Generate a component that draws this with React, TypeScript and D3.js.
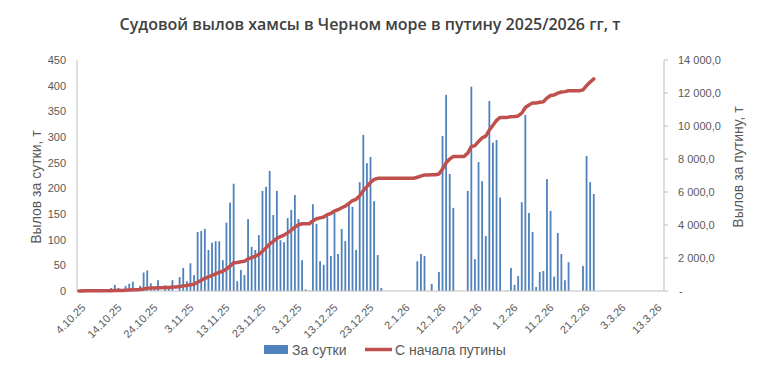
import { useEffect, useRef } from "react";
import * as d3 from "d3";

// daily catch, t (4.10.25 .. 24.2.26)
const daily = [
  2, 4, 4, 0, 0, 0, 0, 0, 0, 6,
  12, 6, 0, 10, 14, 18, 0, 10, 36, 40,
  15, 4, 21, 0, 11, 5, 21, 0, 27, 45,
  19, 54, 31, 115, 117, 121, 80, 94, 97, 97,
  60, 133, 172, 209, 19, 41, 31, 140, 86, 80,
  109, 195, 203, 234, 148, 195, 99, 95, 142, 158,
  187, 140, 60, 3, 1, 169, 131, 58, 51, 146,
  68, 154, 72, 121, 97, 172, 164, 80, 212, 304,
  249, 261, 175, 70, 6, 0, 0, 0, 0, 0,
  0, 0, 0, 0, 58, 72, 68, 0, 14, 0,
  37, 302, 382, 228, 162, 0, 0, 0, 195, 398,
  62, 251, 214, 107, 370, 289, 294, 182, 0, 1,
  45, 12, 29, 173, 343, 152, 115, 8, 37, 39,
  218, 156, 28, 113, 72, 21, 56, 0, 0, 0,
  49, 263, 212, 189,
];

const tickLabels = [
  "4.10.25", "14.10.25", "24.10.25", "3.11.25", "13.11.25", "23.11.25",
  "3.12.25", "13.12.25", "23.12.25", "2.1.26", "12.1.26", "22.1.26",
  "1.2.26", "11.2.26", "21.2.26", "3.3.26", "13.3.26",
];
const leftTicks = [0, 50, 100, 150, 200, 250, 300, 350, 400, 450];
const rightTicks = [0, 2000, 4000, 6000, 8000, 10000, 12000, 14000];

const fmtDay = d3.timeFormat("%-d.%-m.%y");
const days = d3.timeDay.range(new Date(2025, 9, 4), new Date(2026, 2, 16)).map(fmtDay);

const locale = d3.formatLocale({ decimal: ",", thousands: " ", grouping: [3], currency: ["", ""] });
const fmtRight = locale.format(",.1f");

const App = () => {
  const svgRef = useRef<SVGSVGElement>(null);

  useEffect(() => {
    const svg = d3.select(svgRef.current);
    svg.selectAll("*").remove();

    const left = 77, right = 664, top = 60, bottom = 291;
    const font = "'Liberation Sans', Arial, sans-serif";
    const axisColor = "#bfbfbf";
    const textColor = "#595959";

    const x = d3.scaleBand().domain(days).range([left, right]).paddingInner(0.5).paddingOuter(0.25);
    const yL = d3.scaleLinear().domain([0, 450]).range([bottom, top]);
    const yR = d3.scaleLinear().domain([0, 14000]).range([bottom, top]);

    // cumulative since the season start
    const cumul = Array.from(d3.cumsum(daily));

    svg.append("text")
      .attr("x", 370)
      .attr("y", 30)
      .attr("text-anchor", "middle")
      .style("font-family", "'Open Sans', sans-serif")
      .style("font-size", "16px")
      .style("font-weight", 600)
      .style("fill", "#404040")
      .text("Судовой вылов хамсы в Черном море в путину 2025/2026 гг, т");

    // bars
    svg.append("g")
      .selectAll("rect")
      .data(daily)
      .enter()
      .append("rect")
      .attr("x", (d, i) => x(days[i])!)
      .attr("y", (d) => yL(d))
      .attr("width", x.bandwidth())
      .attr("height", (d) => bottom - yL(d))
      .attr("fill", "#4f81bd");

    // axes lines
    svg.append("line").attr("x1", left).attr("x2", left).attr("y1", top).attr("y2", bottom).attr("stroke", axisColor);
    svg.append("line").attr("x1", right).attr("x2", right).attr("y1", top).attr("y2", bottom).attr("stroke", axisColor);
    svg.append("line").attr("x1", left).attr("x2", right).attr("y1", bottom).attr("y2", bottom).attr("stroke", axisColor);

    // left ticks
    svg.append("g")
      .selectAll("text")
      .data(leftTicks)
      .enter()
      .append("text")
      .attr("x", 66)
      .attr("y", (d) => yL(d))
      .attr("dy", "0.35em")
      .attr("text-anchor", "end")
      .style("font-family", font)
      .style("font-size", "11px")
      .style("fill", textColor)
      .text((d) => d);

    // right ticks
    const rt = svg.append("g");
    rt.selectAll("line")
      .data(rightTicks)
      .enter()
      .append("line")
      .attr("x1", right)
      .attr("x2", right + 4)
      .attr("y1", (d) => yR(d))
      .attr("y2", (d) => yR(d))
      .attr("stroke", axisColor);
    rt.selectAll("text")
      .data(rightTicks)
      .enter()
      .append("text")
      .attr("x", (d) => (d === 0 ? 679 : 678))
      .attr("y", (d) => yR(d))
      .attr("dy", "0.35em")
      .style("font-family", font)
      .style("font-size", "11px")
      .style("fill", textColor)
      .text((d) => (d === 0 ? "-" : fmtRight(d)));

    // x ticks
    svg.append("g")
      .selectAll("text")
      .data(tickLabels)
      .enter()
      .append("text")
      .attr("transform", (d) => `translate(${x(d)! + x.bandwidth() / 2 + 2},${303}) rotate(-45)`)
      .attr("text-anchor", "end")
      .attr("dy", "0.7em")
      .style("font-family", font)
      .style("font-size", "11px")
      .style("fill", textColor)
      .text((d) => d);

    // axis titles
    svg.append("text")
      .attr("transform", "translate(41,187) rotate(-90)")
      .attr("text-anchor", "middle")
      .style("font-family", font)
      .style("font-size", "14px")
      .style("fill", textColor)
      .text("Вылов за сутки, т");
    svg.append("text")
      .attr("transform", "translate(743,167) rotate(-90)")
      .attr("text-anchor", "middle")
      .style("font-family", font)
      .style("font-size", "14px")
      .style("fill", textColor)
      .text("Вылов за путину, т");

    // cumulative line
    const line = d3.line<number>()
      .x((d, i) => x(days[i])! + x.bandwidth() / 2)
      .y((d) => yR(d));
    svg.append("path")
      .datum(cumul)
      .attr("fill", "none")
      .attr("stroke", "#c0504d")
      .attr("stroke-width", 3.5)
      .attr("stroke-linejoin", "round")
      .attr("stroke-linecap", "round")
      .attr("d", line);

    // legend
    const lg = svg.append("g");
    lg.append("rect").attr("x", 264).attr("y", 345).attr("width", 24).attr("height", 9).attr("fill", "#4f81bd");
    lg.append("text")
      .attr("x", 292)
      .attr("y", 355)
      .style("font-family", font)
      .style("font-size", "14px")
      .style("fill", textColor)
      .text("За сутки");
    lg.append("line")
      .attr("x1", 365)
      .attr("x2", 392)
      .attr("y1", 349.5)
      .attr("y2", 349.5)
      .attr("stroke", "#c0504d")
      .attr("stroke-width", 3.5);
    lg.append("text")
      .attr("x", 395)
      .attr("y", 355)
      .style("font-family", font)
      .style("font-size", "14px")
      .style("fill", textColor)
      .text("С начала путины");
  }, []);

  return (
    <svg
      ref={svgRef}
      width={761}
      height={371}
      style={{ position: "absolute", left: 0, top: 0, background: "#fff" }}
    ></svg>
  );
};

export default App;
